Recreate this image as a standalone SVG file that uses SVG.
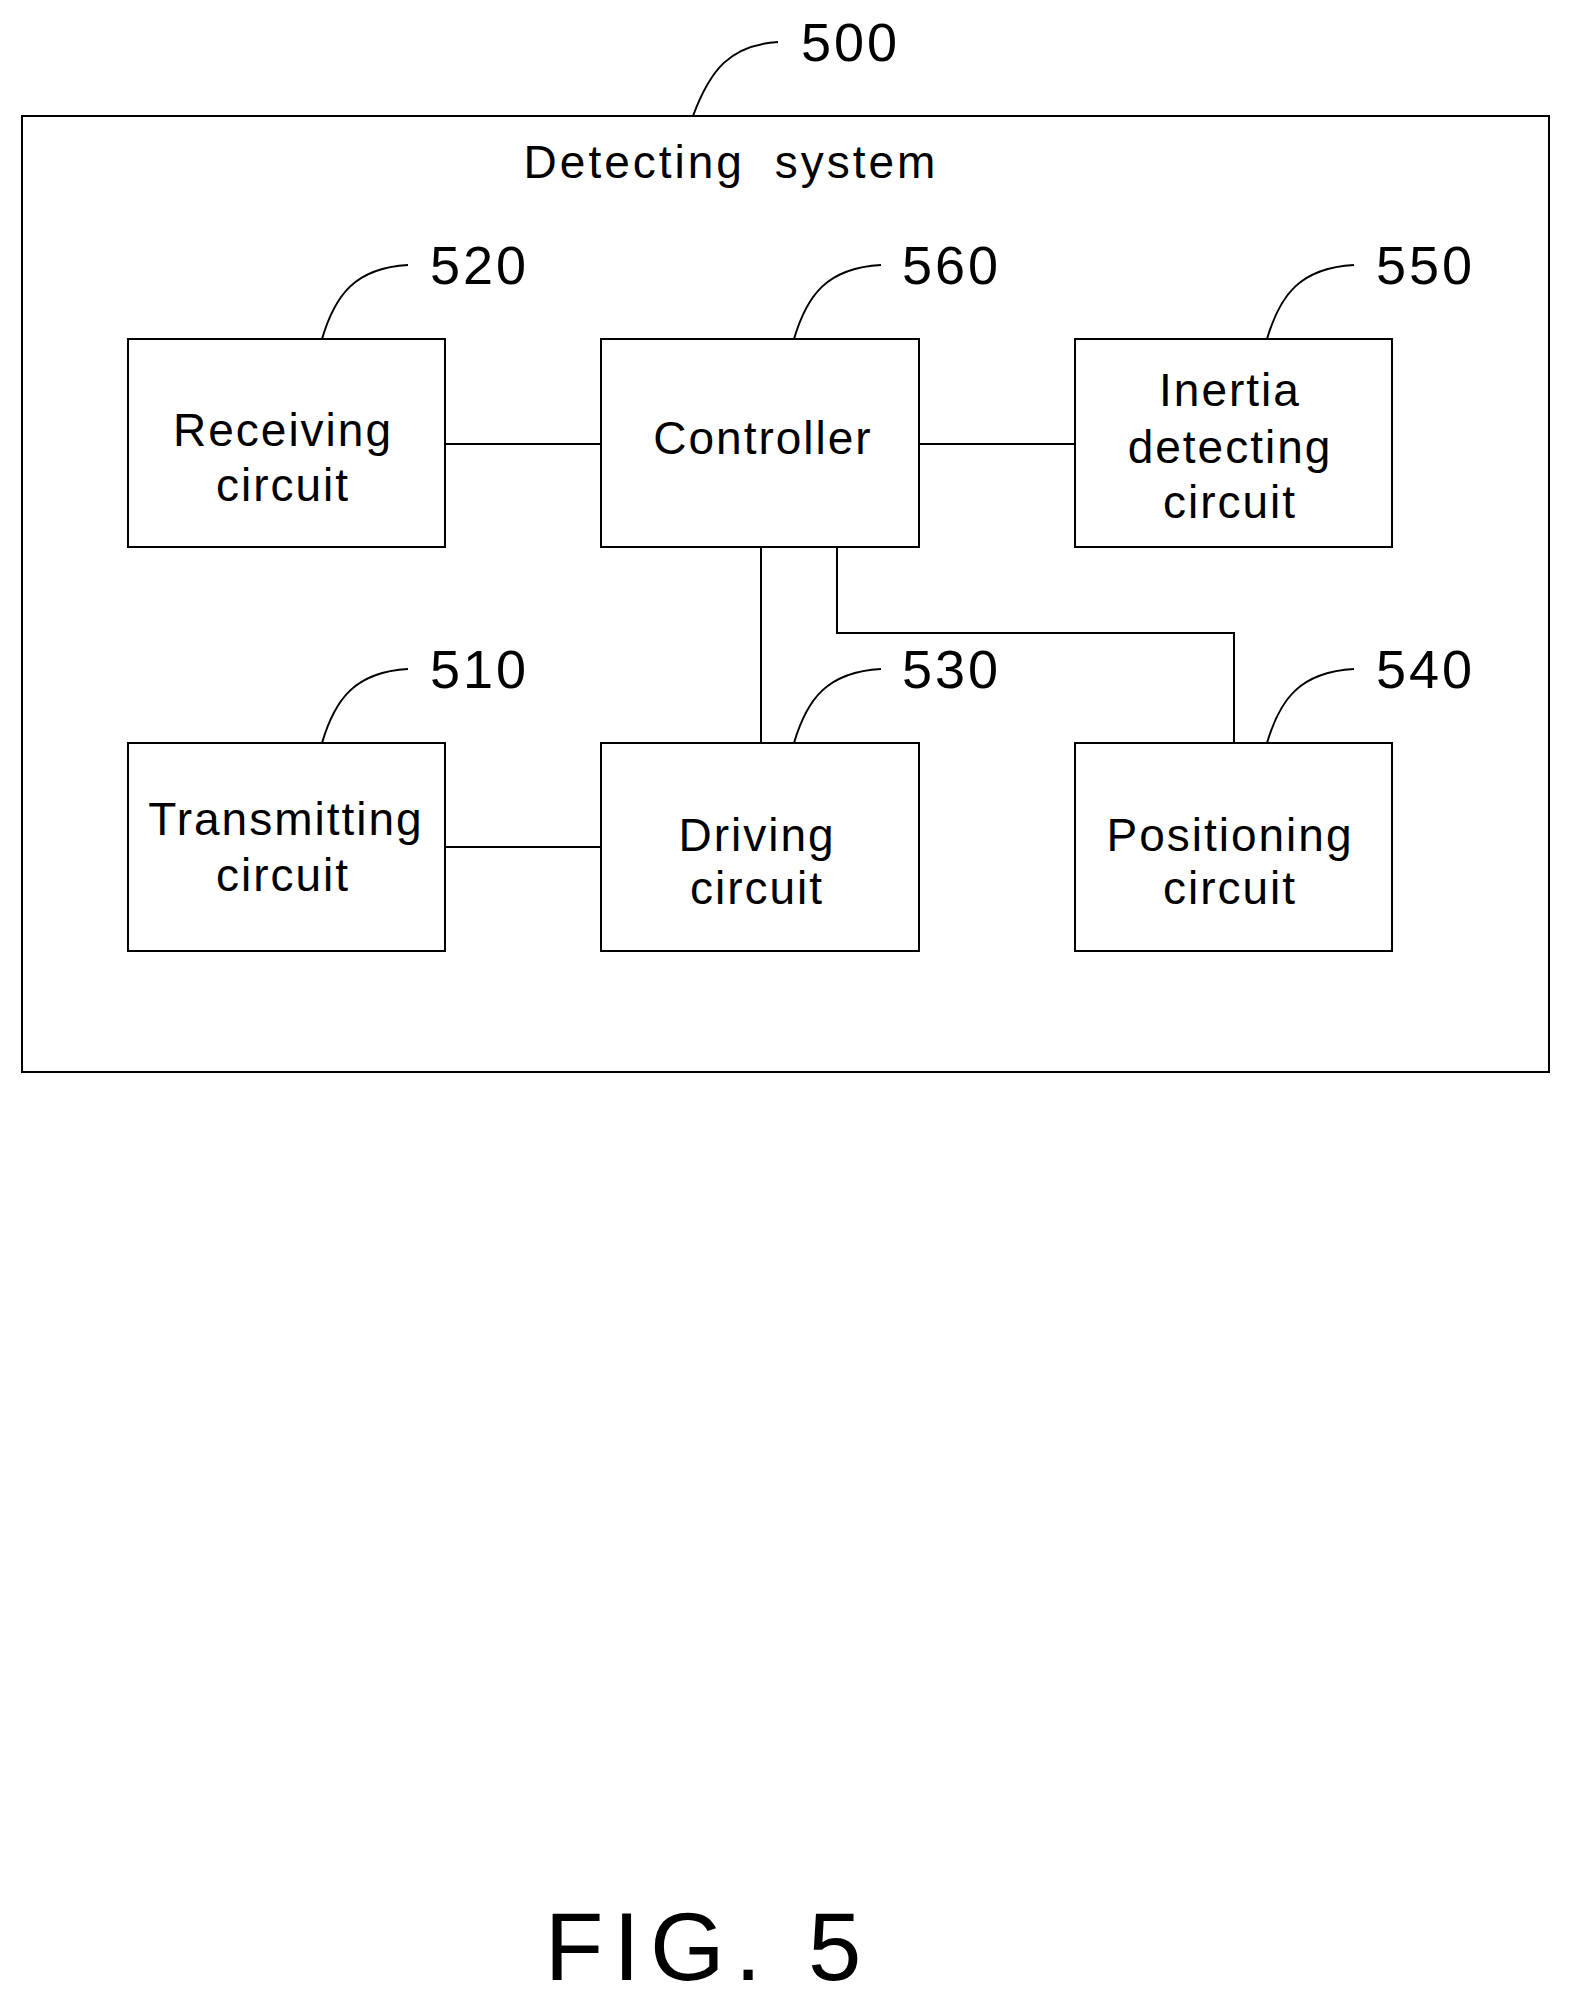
<svg xmlns="http://www.w3.org/2000/svg" width="1571" height="2001" viewBox="0 0 1571 2001">
<style>
rect{fill:none;stroke:#000;stroke-width:2}
path,line,polyline{fill:none;stroke:#000;stroke-width:2}
text{font-family:"Liberation Sans",Arial,sans-serif;font-size:46px;letter-spacing:2px;text-anchor:middle;dominant-baseline:central;fill:#000}
.n{text-anchor:start;font-size:54px;letter-spacing:3px}
</style>
<rect width="1571" height="2001" fill="#fff" stroke="none" style="fill:#fff;stroke:none"/>
<g id="system">
<rect x="22" y="116" width="1527" height="956"/>
<text x="731" y="162" style="letter-spacing:3px;word-spacing:14px">Detecting system</text>
<path d="M693,116 C710,70 730,45 778,42"/>
<text class="n" x="801" y="42">500</text>
</g>
<g id="n520"><rect x="128" y="339" width="317" height="208"/>
<text x="283" y="430">Receiving</text><text x="283" y="485">circuit</text>
<path d="M322,339 C335,295 355,268 408,265"/><text class="n" x="430" y="265">520</text></g>
<g id="n560"><rect x="601" y="339" width="318" height="208"/>
<text x="763" y="438">Controller</text>
<path d="M794,339 C807,295 827,268 881,265"/><text class="n" x="902" y="265">560</text></g>
<g id="n550"><rect x="1075" y="339" width="317" height="208"/>
<text x="1230" y="390">Inertia</text><text x="1230" y="447">detecting</text><text x="1230" y="502">circuit</text>
<path d="M1267,339 C1280,295 1300,268 1354,265"/><text class="n" x="1376" y="265">550</text></g>
<g id="n510"><rect x="128" y="743" width="317" height="208"/>
<text x="286" y="819">Transmitting</text><text x="283" y="875">circuit</text>
<path d="M322,743 C335,699 355,672 408,669"/><text class="n" x="430" y="669">510</text></g>
<g id="n530"><rect x="601" y="743" width="318" height="208"/>
<text x="757" y="835">Driving</text><text x="757" y="888">circuit</text>
<path d="M794,743 C807,699 827,672 881,669"/><text class="n" x="902" y="669">530</text></g>
<g id="n540"><rect x="1075" y="743" width="317" height="208"/>
<text x="1230" y="835">Positioning</text><text x="1230" y="888">circuit</text>
<path d="M1267,743 C1280,699 1300,672 1354,669"/><text class="n" x="1376" y="669">540</text></g>
<g id="connectors">
<line x1="445" y1="444" x2="601" y2="444"/>
<line x1="919" y1="444" x2="1075" y2="444"/>
<line x1="761" y1="547" x2="761" y2="743"/>
<polyline points="837,547 837,633 1234,633 1234,743"/>
<line x1="445" y1="847" x2="601" y2="847"/>
</g>
<text x="708" y="1946" style="font-size:96px;letter-spacing:10px;font-weight:300">FIG. 5</text>
</svg>
